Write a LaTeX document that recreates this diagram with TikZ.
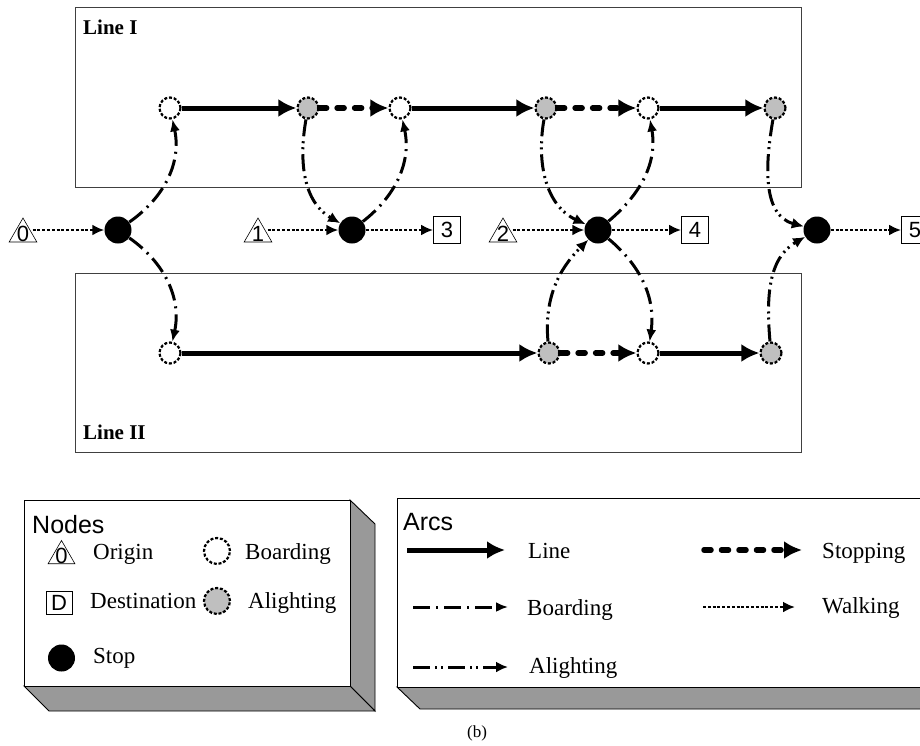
\documentclass[tikz,border=0pt]{standalone}
\usepackage{fontspec}
\setmainfont{Liberation Serif}
\newfontfamily\arialf{Liberation Sans}
\usetikzlibrary{arrows.meta,shapes.geometric}
\newcommand\dgfont{\arialf\fontsize{22}{22}\selectfont}
\newcommand\hdfont{\arialf\fontsize{25}{25}\selectfont}
\newcommand\lgfont{\fontsize{23}{23}\selectfont}
\newcommand\lnfont{\bfseries\fontsize{21}{21}\selectfont}
\begin{document}
\begin{tikzpicture}[x=1pt,y=1pt,
  boxline/.style={draw=black!75, line width=1pt},
  legbox/.style={draw=black, line width=0.9pt, fill=white},
  legside/.style={draw=black, line width=0.9pt, fill=black!40},
  bnode/.style={circle, draw, fill=white, line width=2.2pt, dash pattern=on 3pt off 1.8pt, minimum size=21pt, inner sep=0pt},
  anode/.style={bnode, fill=gray!50},
  stopnode/.style={circle, fill=black, minimum size=27pt, inner sep=0pt},
  orig/.style={regular polygon, regular polygon sides=3, draw, line width=0.6pt, minimum size=32pt, inner sep=0pt},
  dest/.style={rectangle, draw, line width=0.8pt, minimum size=27pt, inner sep=0pt, font=\dgfont},
  txt/.style={anchor=base west, inner sep=0pt, font=\lgfont},
  linearc/.style={line width=5pt, -{Latex[length=18pt,width=18pt]}},
  stoparc/.style={line width=5.5pt, line cap=round, dash pattern=on 7pt off 10.5pt, -{Latex[length=18pt,width=18pt]}},
  walkarc/.style={line width=2.8pt, dash pattern=on 3pt off 1.8pt, -{Latex[length=12pt,width=11pt]}},
  boardarc/.style={line width=3pt, dash pattern=on 17pt off 6pt on 2pt off 6pt, -{Latex[length=12pt,width=10pt]}},
  alightarc/.style={line width=3pt, dash pattern=on 17pt off 5pt on 2pt off 4pt on 2pt off 5pt, -{Latex[length=12pt,width=11pt]}}
]
\useasboundingbox (0,0) rectangle (920,-745);
\clip (0,0) rectangle (920,-745);
\fill[white] (0,0) rectangle (920,-745);

% line boxes
\draw[boxline] (75,-7) rectangle (801,-187);
\draw[boxline] (75,-273) rectangle (801,-452);
\node[anchor=base west, inner sep=0pt, font=\lnfont] (l1) at (83,-34) {Line I};
\node[anchor=base west, inner sep=0pt, font=\lnfont] (l2) at (83,-439) {Line II};

% line I nodes
\node[bnode] (b1a) at (170,-108) {};
\node[anode] (a1a) at (308,-108) {};
\node[bnode] (b1b) at (400,-108) {};
\node[anode] (a1b) at (546,-108) {};
\node[bnode] (b1c) at (648,-108) {};
\node[anode] (a1c) at (775,-108) {};
% line II nodes
\node[bnode] (b2a) at (170,-353) {};
\node[anode] (a2a) at (549,-353) {};
\node[bnode] (b2b) at (648,-353) {};
\node[anode] (a2b) at (771,-353) {};
% stops
\node[stopnode] (s0) at (118,-230) {};
\node[stopnode] (s1) at (352,-230) {};
\node[stopnode] (s2) at (598,-230) {};
\node[stopnode] (s3) at (817,-230) {};
% origins
\node[orig, label={[font=\dgfont]center:0}] (o0) at (23,-234) {};
\node[orig, label={[font=\dgfont]center:1}] (o1) at (258,-234) {};
\node[orig, label={[font=\dgfont]center:2}] (o2) at (503,-234) {};
% destinations
\node[dest] (d3) at (447,-230) {3};
\node[dest] (d4) at (695,-230) {4};
\node[dest] (d5) at (915,-230) {5};

% line arcs
\draw[linearc] (b1a) -- (a1a);
\draw[stoparc] (a1a) -- (b1b);
\draw[linearc] (b1b) -- (a1b);
\draw[stoparc] (a1b) -- (b1c);
\draw[linearc] (b1c) -- (a1c);
\draw[linearc] (b2a) -- (a2a);
\draw[stoparc] (a2a) -- (b2b);
\draw[linearc] (b2b) -- (a2b);

% walking arcs
\draw[walkarc] (o0.east |- s0) -- (s0);
\draw[walkarc] (o1.east |- s1) -- (s1);
\draw[walkarc] (o2.east |- s2) -- (s2);
\draw[walkarc] (s1) -- (d3);
\draw[walkarc] (s2) -- (d4);
\draw[walkarc] (s3) -- (d5);

% boarding arcs
\draw[boardarc] (s0) to[out=35, in=-78] (b1a);
\draw[boardarc] (s0) to[out=-35, in=78] (b2a);
\draw[boardarc] (s1) to[out=38, in=-78] (b1b);
\draw[boardarc] (s2) to[out=40, in=-80] (b1c);
\draw[boardarc] (s2) to[out=-40, in=82] (b2b);

% alighting arcs
\draw[alightarc] (a1a) to[out=-100, in=150] (s1);
\draw[alightarc] (a1b) to[out=-100, in=155] (s2);
\draw[alightarc] (a2a) to[out=95, in=-135] (s2);
\draw[alightarc] (a1c) to[out=-100, in=165] (s3);
\draw[alightarc] (a2b) to[out=95, in=-150] (s3);

% legend: nodes
\draw[legside] (350,-500) -- (375,-524) -- (375,-711) -- (350,-686) -- cycle;
\draw[legside] (24,-686) -- (350,-686) -- (375,-711) -- (49,-711) -- cycle;
\draw[legbox] (24,-500) rectangle (350,-686);
\node[anchor=base west, inner sep=0pt, font=\hdfont] (nh) at (32,-533) {Nodes};
\node[orig, minimum size=31pt, label={[font=\dgfont]center:0}] (lo) at (61.5,-556) {};
\node[txt] (lot) at (93,-559) {Origin};
\node[bnode, minimum size=26pt] (lb) at (217,-551) {};
\node[txt] (lbt) at (245,-559) {Boarding};
\node[dest, minimum width=26pt, minimum height=23pt] (ld) at (59,-603) {D};
\node[txt] (ldt) at (90,-608) {Destination};
\node[anode, minimum size=26pt] (la) at (217,-601) {};
\node[txt] (lat) at (248,-608) {Alighting};
\node[stopnode] (ls) at (61.5,-658) {};
\node[txt] (lst) at (93,-663) {Stop};

% legend: arcs
\draw[legside] (397,-687) -- (945,-687) -- (968,-709) -- (420,-709) -- cycle;
\draw[legbox] (397,-498) rectangle (945,-687);
\node[anchor=base west, inner sep=0pt, font=\hdfont] (ah) at (403,-530) {Arcs};
\coordinate (la1) at (407,-550); \coordinate (la2) at (505,-550);
\draw[linearc] (la1) -- (la2);
\node[txt] (lt1) at (528,-558) {Line};
\coordinate (ls1) at (704,-550); \coordinate (ls2) at (802,-550);
\draw[stoparc] (ls1) -- (ls2);
\node[txt] (lt2) at (822,-558) {Stopping};
\coordinate (lb1) at (413,-607); \coordinate (lb2) at (508,-607);
\draw[boardarc] (lb1) -- (lb2);
\node[txt] (lt3) at (527,-615) {Boarding};
\coordinate (lw1) at (703,-607); \coordinate (lw2) at (795,-607);
\draw[walkarc] (lw1) -- (lw2);
\node[txt] (lt4) at (822,-613) {Walking};
\coordinate (lg1) at (413,-667); \coordinate (lg2) at (508,-667);
\draw[alightarc] (lg1) -- (lg2);
\node[txt] (lt5) at (529,-673) {Alighting};

\node[font=\fontsize{17}{17}\selectfont, inner sep=0pt] (cap) at (477,-733) {(b)};
\end{tikzpicture}
\end{document}
